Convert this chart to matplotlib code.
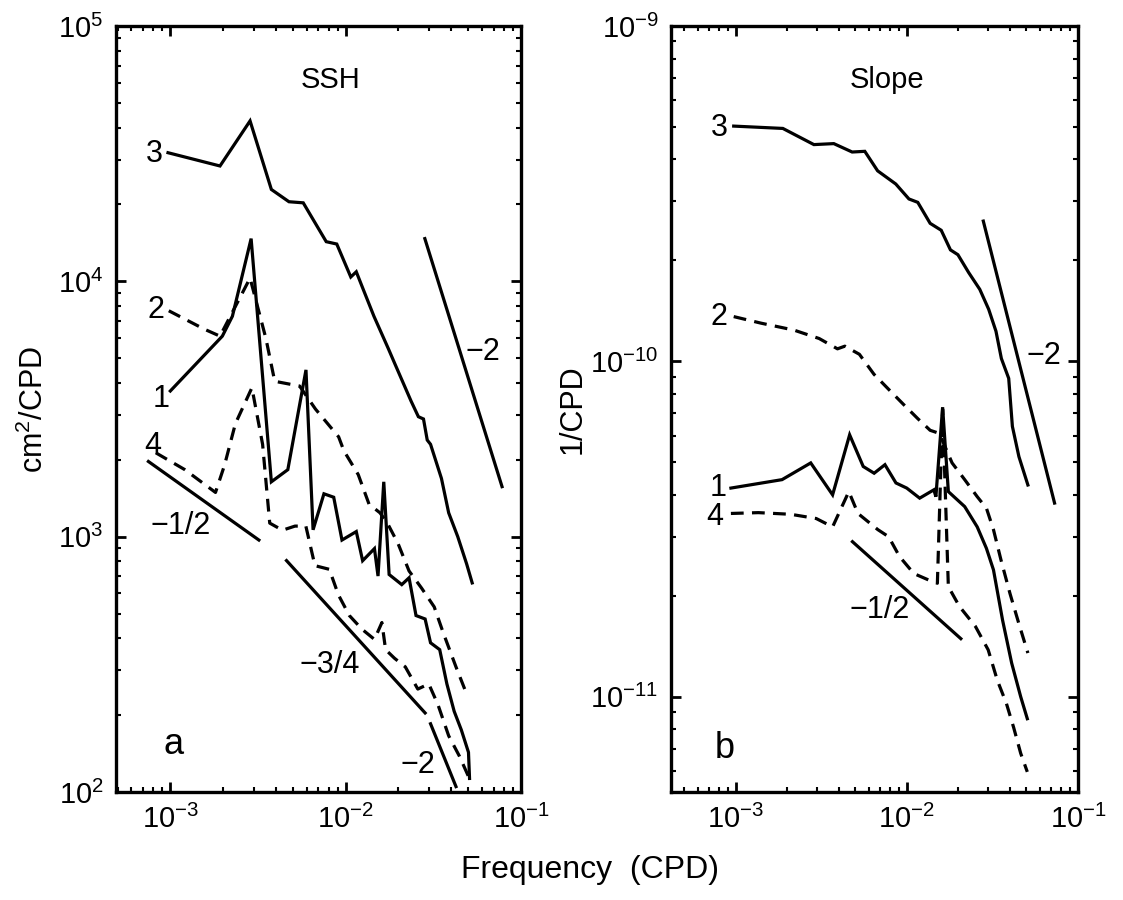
import numpy as np
import matplotlib
matplotlib.use("Agg")
import matplotlib.pyplot as plt

plt.rcParams['font.family'] = ['Liberation Sans', 'DejaVu Sans']
plt.rcParams['mathtext.default'] = 'regular'

# ---- panel a: SSH spectra (cm^2/CPD) ----
ssh1_f = [1.0e-3, 1.98e-3, 2.26e-3, 2.89e-3, 3.77e-3, 4.68e-3, 5.94e-3, 6.52e-3, 7.52e-3,
          8.55e-3, 9.53e-3, 1.15e-2, 1.25e-2, 1.46e-2, 1.53e-2, 1.65e-2, 1.77e-2, 2.09e-2,
          2.30e-2, 2.52e-2, 2.84e-2, 3.05e-2, 3.44e-2, 3.78e-2, 4.16e-2, 4.57e-2, 5.02e-2, 5.09e-2]
ssh1_p = [3720, 6100, 7300, 14700, 1640, 1830, 4500, 1064, 1472,
          1427, 970, 1047, 805, 898, 701, 1640, 711, 649,
          690, 491, 476, 384, 361, 265, 207, 175, 143, 113]

ssh2_f = [9.8e-4, 1.56e-3, 1.92e-3, 2.85e-3, 3.51e-3, 3.94e-3, 5.46e-3, 6.73e-3, 9.12e-3,
          9.77e-3, 1.18e-2, 1.36e-2, 1.57e-2, 1.73e-2, 1.99e-2, 2.30e-2, 2.71e-2, 3.20e-2,
          3.60e-2, 4.26e-2, 4.90e-2]
ssh2_p = [7670, 6500, 6100, 10300, 5970, 4060, 3890, 3160, 2460,
          2170, 1750, 1340, 1240, 1130, 940, 734, 629, 531,
          421, 309, 242]

ssh3_f = [9.7e-4, 1.92e-3, 2.85e-3, 3.77e-3, 4.75e-3, 5.73e-3, 7.75e-3, 8.9e-3, 1.07e-2,
          1.15e-2, 1.26e-2, 1.45e-2, 1.75e-2, 1.92e-2, 2.15e-2, 2.36e-2, 2.60e-2, 2.78e-2,
          2.92e-2, 3.05e-2, 3.52e-2, 3.87e-2, 4.36e-2, 4.90e-2, 5.27e-2]
ssh3_p = [31900, 28300, 42500, 22900, 20500, 20300, 14300, 14000, 10400,
          10900, 9300, 7300, 5460, 4710, 3940, 3400, 2950, 2890,
          2390, 2300, 1690, 1240, 1000, 782, 659]

ssh4_f = [8.27e-4, 1.21e-3, 1.81e-3, 2.04e-3, 2.35e-3, 2.92e-3, 3.36e-3, 3.69e-3, 4.36e-3,
          5.14e-3, 5.93e-3, 6.68e-3, 8.07e-3, 9.1e-3, 1.05e-2, 1.24e-2, 1.46e-2, 1.61e-2,
          1.69e-2, 1.90e-2, 2.19e-2, 2.58e-2, 2.98e-2, 3.36e-2, 3.87e-2, 4.46e-2, 5.02e-2]
ssh4_p = [2130, 1830, 1490, 1910, 2770, 3830, 2300, 1130, 1060,
          1100, 1100, 770, 745, 591, 491, 434, 396, 461,
          361, 334, 309, 253, 265, 220, 166, 138, 115]

# reference slope lines: end frequencies, end values, labels
ssh_ref_f = [[7.5e-4, 3.2e-3], [4.6e-3, 2.84e-2], [3.05e-2, 4.26e-2], [2.83e-2, 7.8e-2]]
ssh_ref_p = [[1970, 970], [806, 204], [185, 105], [14700, 1570]]
ssh_ref_txt = ['\u22121/2', '\u22123/4', '\u22122', '\u22122']
ssh_ref_tf = [1.15e-3, 8.07e-3, 2.58e-2, 6.1e-2]
ssh_ref_tp = [1100, 314, 128, 5300]

ssh_num_f = [8.9e-4, 8.3e-4, 8.1e-4, 7.9e-4]
ssh_num_p = [3450, 7700, 31600, 2270]

# ---- panel b: slope spectra (1/CPD) ----
slp1_f = [9.4e-4, 1.87e-3, 2.75e-3, 3.69e-3, 4.64e-3, 5.57e-3, 6.45e-3, 7.46e-3, 8.65e-3,
          1.0e-2, 1.19e-2, 1.44e-2, 1.48e-2, 1.62e-2, 1.75e-2, 2.18e-2, 2.58e-2, 2.92e-2,
          3.21e-2, 3.63e-2, 4.10e-2, 4.63e-2, 5.06e-2]
slp1_p = [4.19e-11, 4.44e-11, 4.98e-11, 4.0e-11, 6.04e-11, 4.86e-11, 4.64e-11, 4.92e-11, 4.34e-11,
          4.19e-11, 3.91e-11, 4.14e-11, 3.95e-11, 7.3e-11, 4.09e-11, 3.69e-11, 3.21e-11, 2.77e-11,
          2.39e-11, 1.69e-11, 1.26e-11, 1.0e-11, 8.6e-12]

slp2_f = [9.76e-4, 1.41e-3, 2.19e-3, 3.08e-3, 3.94e-3, 4.35e-3, 5.29e-3, 6.44e-3, 7.83e-3,
          9.53e-3, 1.16e-2, 1.37e-2, 1.55e-2, 1.84e-2, 2.18e-2, 2.58e-2, 2.92e-2, 3.21e-2,
          3.55e-2, 4.01e-2, 4.52e-2, 5.10e-2]
slp2_p = [1.36e-10, 1.30e-10, 1.24e-10, 1.17e-10, 1.09e-10, 1.11e-10, 1.05e-10, 9.15e-11, 8.26e-11,
          7.46e-11, 6.75e-11, 6.23e-11, 6.1e-11, 4.98e-11, 4.44e-11, 3.95e-11, 3.65e-11, 3.15e-11,
          2.56e-11, 2.03e-11, 1.65e-11, 1.35e-11]

slp3_f = [9.76e-4, 1.89e-3, 2.87e-3, 3.75e-3, 4.8e-3, 5.69e-3, 6.76e-3, 8.63e-3, 1.03e-2,
          1.16e-2, 1.37e-2, 1.59e-2, 1.80e-2, 1.99e-2, 2.30e-2, 2.67e-2, 3.01e-2, 3.32e-2,
          3.57e-2, 3.94e-2, 4.14e-2, 4.52e-2, 5.1e-2]
slp3_p = [5.03e-10, 4.95e-10, 4.43e-10, 4.46e-10, 4.21e-10, 4.23e-10, 3.70e-10, 3.38e-10, 3.05e-10,
          2.98e-10, 2.58e-10, 2.46e-10, 2.15e-10, 2.08e-10, 1.84e-10, 1.64e-10, 1.43e-10, 1.23e-10,
          1.02e-10, 8.9e-11, 6.4e-11, 5.2e-11, 4.28e-11]

slp4_f = [9.4e-4, 1.36e-3, 2.10e-3, 2.96e-3, 3.69e-3, 4.59e-3, 5.19e-3, 6.78e-3, 7.84e-3,
          9.07e-3, 1.10e-2, 1.34e-2, 1.51e-2, 1.62e-2, 1.75e-2, 2.03e-2, 2.52e-2, 2.99e-2,
          3.38e-2, 3.82e-2, 4.21e-2, 4.63e-2, 5.06e-2]
slp4_p = [3.52e-11, 3.54e-11, 3.5e-11, 3.4e-11, 3.21e-11, 4.09e-11, 3.52e-11, 3.15e-11, 3.0e-11,
          2.62e-11, 2.33e-11, 2.23e-11, 2.18e-11, 7.2e-11, 2.13e-11, 1.86e-11, 1.62e-11, 1.38e-11,
          1.12e-11, 9.55e-12, 8.1e-12, 6.78e-12, 5.97e-12]

slp_ref_f = [[4.82e-3, 2.07e-2], [2.8e-2, 7.3e-2]]
slp_ref_p = [[2.9e-11, 1.49e-11], [2.62e-10, 3.78e-11]]
slp_ref_txt = ['\u22121/2', '\u22122']
slp_ref_tf = [6.93e-3, 6.3e-2]
slp_ref_tp = [1.82e-11, 1.04e-10]

slp_num_f = [7.96e-4, 8.0e-4, 8.0e-4, 7.6e-4]
slp_num_p = [4.19e-11, 1.36e-10, 4.95e-10, 3.44e-11]

num_labels = ['1', '2', '3', '4']
dashed = (0, (4, 2.6))

fig = plt.figure(figsize=(11.23, 9.0), dpi=100)
ax_a = fig.add_axes([0.1033, 0.12, 0.3606, 0.8511])
ax_b = fig.add_axes([0.5975, 0.12, 0.3624, 0.8511])


def style_axis(ax):
    ax.set_xscale('log')
    ax.set_yscale('log')
    for sp in ax.spines.values():
        sp.set_linewidth(2.4)
    ax.tick_params(which='major', direction='in', length=7, width=2,
                   top=True, right=True, labelsize=21, pad=9)
    ax.tick_params(which='minor', direction='in', length=3.5, width=1.5,
                   top=True, right=True)
    ax.set_xticks([1e-3, 1e-2, 1e-1])


def draw_panel(ax, curves, ref_f, ref_p, ref_txt, ref_tf, ref_tp, num_f, num_p):
    for (f, p), ls in zip(curves, ['-', dashed, '-', dashed]):
        ax.plot(f, p, color='black', lw=2.3, linestyle=ls, solid_joinstyle='miter')
    for f, p in zip(ref_f, ref_p):
        ax.plot(f, p, color='black', lw=2.3)
    for t, x, y in zip(ref_txt, ref_tf, ref_tp):
        ax.text(x, y, t, fontsize=22, ha='center', va='center')
    for t, x, y in zip(num_labels, num_f, num_p):
        ax.text(x, y, t, fontsize=22, ha='center', va='center')


style_axis(ax_a)
draw_panel(ax_a, [(ssh1_f, ssh1_p), (ssh2_f, ssh2_p), (ssh3_f, ssh3_p), (ssh4_f, ssh4_p)],
           ssh_ref_f, ssh_ref_p, ssh_ref_txt, ssh_ref_tf, ssh_ref_tp, ssh_num_f, ssh_num_p)
ax_a.set_xlim(4.9e-4, 1.0e-1)
ax_a.set_ylim(1e2, 1e5)
ax_a.text(0.53, 0.93, 'SSH', transform=ax_a.transAxes, fontsize=21, ha='center', va='center')
ax_a.text(1.05e-3, 154, 'a', fontsize=26, ha='center', va='center')
ax_a.set_ylabel('cm$^2$/CPD', fontsize=22, labelpad=6)

style_axis(ax_b)
draw_panel(ax_b, [(slp1_f, slp1_p), (slp2_f, slp2_p), (slp3_f, slp3_p), (slp4_f, slp4_p)],
           slp_ref_f, slp_ref_p, slp_ref_txt, slp_ref_tf, slp_ref_tp, slp_num_f, slp_num_p)
ax_b.set_xlim(4.2e-4, 1.0e-1)
ax_b.set_ylim(5.2e-12, 1e-9)
ax_b.set_yticks([1e-11, 1e-10, 1e-9])
ax_b.text(0.53, 0.93, 'Slope', transform=ax_b.transAxes, fontsize=21, ha='center', va='center')
ax_b.text(8.6e-4, 7.0e-12, 'b', fontsize=26, ha='center', va='center')
ax_b.set_ylabel('1/CPD', fontsize=22, labelpad=2)

fig.text(0.525, 0.033, 'Frequency  (CPD)', fontsize=23, ha='center', va='center')

fig.savefig('out.png', dpi=100)
